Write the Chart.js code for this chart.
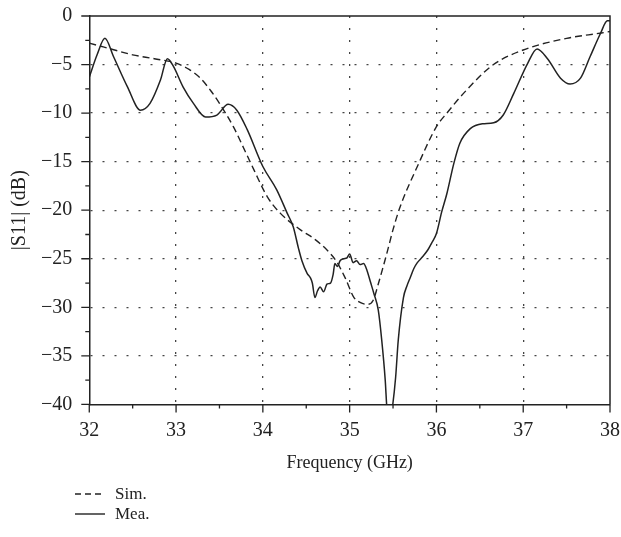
<!DOCTYPE html>
<html>
<head>
<meta charset="utf-8">
<script src="https://cdn.jsdelivr.net/npm/chart.js@4.4.0/dist/chart.umd.min.js"></script>
<style>
  html, body { margin: 0; padding: 0; background: #fff; }
  #wrap { position: relative; width: 621px; height: 537px; }
  #legend { position: absolute; left: 75px; top: 484px; font-family: "Liberation Serif", serif; font-size: 17px; color: #222; }
  .item { display: flex; align-items: center; height: 20px; }
  .item svg { margin-right: 10px; }
</style>
</head>
<body>
<div id="wrap">
  <canvas id="chart" width="621" height="537"></canvas>
  <div id="legend">
    <div class="item"><svg width="30" height="4"><line x1="0" y1="2" x2="30" y2="2" stroke="#222" stroke-width="1.4" stroke-dasharray="6,4"/></svg>Sim.</div>
    <div class="item"><svg width="30" height="4"><line x1="0" y1="2" x2="30" y2="2" stroke="#222" stroke-width="1.4"/></svg>Mea.</div>
  </div>
</div>
<script>
// simulated |S11|
const simFreq = [32.0, 32.25, 32.5, 32.75, 33.0, 33.15, 33.28, 33.4, 33.5, 33.66, 33.8, 33.9, 34.05, 34.2, 34.43,
    34.6, 34.75, 34.85, 34.95, 35.05, 35.12, 35.2, 35.27, 35.33, 35.43, 35.5, 35.58, 35.78, 36.0, 36.12, 36.35,
    36.65, 37.0, 37.5, 37.9, 38.0];
const simS11 = [-2.8, -3.4, -4.0, -4.4, -4.85, -5.5, -6.4, -7.7, -9.0, -11.4, -14.0, -15.9, -18.6, -20.3, -22.0,
    -23.0, -24.2, -25.3, -27.0, -29.0, -29.5, -29.7, -29.3, -27.6, -24.4, -22.0, -19.7, -15.5, -11.4, -10.0, -7.6,
    -5.05, -3.5, -2.3, -1.75, -1.6];

// measured |S11|
const meaFreq = [32.0, 32.09, 32.18, 32.28, 32.44, 32.59, 32.7, 32.82, 32.9, 32.97, 33.08, 33.2, 33.34, 33.47,
    33.6, 33.7, 33.82, 34.0, 34.16, 34.28, 34.35, 34.41, 34.45, 34.51, 34.55, 34.57, 34.6, 34.63, 34.66, 34.7,
    34.74, 34.78, 34.81, 34.83, 34.86, 34.89, 34.93, 34.97, 35.0, 35.04, 35.08, 35.12, 35.16, 35.2, 35.24, 35.28,
    35.33, 35.37, 35.41, 35.43, 35.46, 35.49, 35.53, 35.56, 35.62, 35.66, 35.7, 35.74, 35.78, 35.84, 35.9, 35.95,
    36.0, 36.06, 36.12, 36.2, 36.27, 36.39, 36.53, 36.66, 36.77, 36.89, 37.05, 37.16, 37.28, 37.43, 37.54, 37.66,
    37.77, 37.89, 37.97, 38.0];
const meaS11 = [-6.3, -4.0, -2.3, -4.2, -7.3, -9.7, -9.0, -6.6, -4.4, -5.2, -7.3, -9.0, -10.4, -10.2,
    -9.1, -9.7, -11.7, -15.5, -17.9, -20.3, -21.7, -23.9, -25.2, -26.5, -27.0, -27.5, -29.0, -28.3, -27.9, -28.4,
    -27.6, -27.5, -26.6, -25.5, -25.8, -25.2, -25.0, -24.9, -24.5, -25.4, -25.2, -25.6, -25.5, -26.2, -27.4, -28.6,
    -30.3, -33.4, -37.5, -40.5, -42.0, -40.5, -37.2, -33.4, -29.0, -27.8, -26.9, -26.0, -25.4, -24.8, -24.1, -23.3,
    -22.4, -20.2, -18.3, -15.2, -13.1, -11.6, -11.1, -11.0, -10.2, -8.0, -4.9, -3.4, -4.4, -6.4, -7.0, -6.4,
    -4.2, -1.8, -0.5, -0.5];

const FONT = "'Liberation Serif', 'Times New Roman', serif";
const INK = "#222";

const toXY = (xs, ys) => xs.map((x, i) => ({ x: x, y: ys[i] }));
const isMajor = (v, step) => Math.abs(v / step - Math.round(v / step)) < 1e-6;
const fmt = (v) => (v < 0 ? "\u2212" + Math.abs(v) : String(v));

// top/right frame plus outward tick marks (long on labelled values)
const frameAndTicks = {
    id: "frameAndTicks",
    afterDraw(chart) {
        const ctx = chart.ctx;
        const a = chart.chartArea;
        const xs = chart.scales.x, ys = chart.scales.y;
        ctx.save();
        ctx.strokeStyle = INK;
        ctx.lineWidth = 1.5;
        ctx.beginPath();
        ctx.moveTo(a.left, a.top);
        ctx.lineTo(a.right, a.top);
        ctx.lineTo(a.right, a.bottom);
        ctx.stroke();

        ctx.lineWidth = 1.3;
        ctx.beginPath();
        xs.ticks.forEach((t) => {
            const px = xs.getPixelForValue(t.value);
            const len = isMajor(t.value, 1) ? 8 : 4;
            ctx.moveTo(px, a.bottom);
            ctx.lineTo(px, a.bottom + len);
        });
        ys.ticks.forEach((t) => {
            const py = ys.getPixelForValue(t.value);
            const len = isMajor(t.value, 5) ? 8 : 4;
            ctx.moveTo(a.left, py);
            ctx.lineTo(a.left - len, py);
        });
        ctx.stroke();
        ctx.restore();
    },
};

const gridColor = (step, lo, hi) => (c) => {
    const v = c.tick ? c.tick.value : null;
    if (v === null || !isMajor(v, step) || v === lo || v === hi) return "rgba(0,0,0,0)";
    return "#444";
};

const config = {
    type: "line",
    data: {
        datasets: [
            {
                label: "Sim.",
                data: toXY(simFreq, simS11),
                borderColor: INK,
                borderWidth: 1.4,
                borderDash: [7, 4],
                pointRadius: 0,
                cubicInterpolationMode: "monotone",
            },
            {
                label: "Mea.",
                data: toXY(meaFreq, meaS11),
                borderColor: INK,
                borderWidth: 1.5,
                pointRadius: 0,
                cubicInterpolationMode: "monotone",
            },
        ],
    },
    options: {
        responsive: false,
        animation: false,
        layout: { padding: { left: 4, right: 11, top: 16, bottom: 59 } },
        plugins: { legend: { display: false }, tooltip: { enabled: false } },
        scales: {
            x: {
                type: "linear",
                min: 32,
                max: 38,
                ticks: {
                    stepSize: 0.5,
                    padding: 0,
                    color: INK,
                    font: { family: FONT, size: 20 },
                    callback: (v) => (isMajor(v, 1) ? fmt(v) : ""),
                    maxRotation: 0,
                    autoSkip: false,
                },
                grid: { color: gridColor(1, 32, 38), lineWidth: 1.3, drawTicks: true, tickLength: 14, tickColor: "rgba(0,0,0,0)" },
                border: { color: INK, width: 1.5, dash: [2, 10] },
                title: { display: true, text: "Frequency (GHz)", color: INK, font: { family: FONT, size: 18 }, padding: { top: 10, bottom: 4 } },
            },
            y: {
                min: -40,
                max: 0,
                ticks: {
                    stepSize: 2.5,
                    padding: 0,
                    color: INK,
                    font: { family: FONT, size: 20 },
                    callback: (v) => (isMajor(v, 5) ? fmt(v) : ""),
                    autoSkip: false,
                },
                grid: { color: gridColor(5, -40, 0), lineWidth: 1.3, drawTicks: true, tickLength: 17, tickColor: "rgba(0,0,0,0)" },
                border: { color: INK, width: 1.5, dash: [2, 10] },
                title: { display: true, text: "|S11| (dB)", color: INK, font: { family: FONT, size: 20 }, padding: { top: 4, bottom: 9 } },
            },
        },
    },
    plugins: [frameAndTicks],
};

new Chart(document.getElementById("chart"), config);
</script>
</body>
</html>
